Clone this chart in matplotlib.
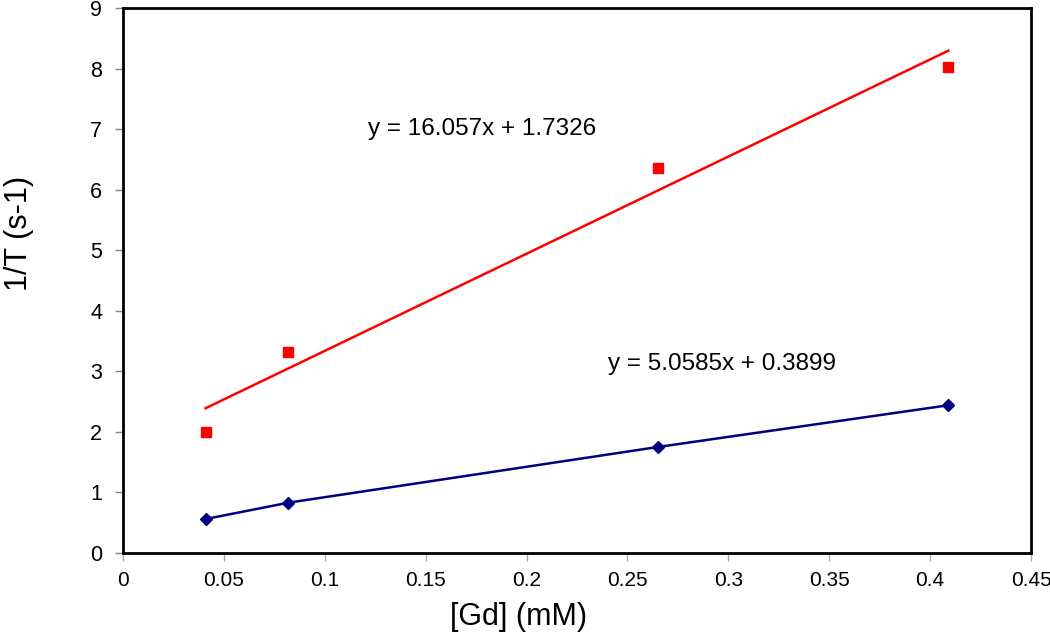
import matplotlib
matplotlib.use("Agg")
import matplotlib.pyplot as plt
import numpy as np

plt.rcParams['font.family'] = ['Liberation Sans', 'DejaVu Sans']

gd = [0.041, 0.082, 0.265, 0.409]
r1 = [0.56, 0.83, 1.75, 2.44]
r2 = [2.00, 3.32, 6.36, 8.03]
fit1 = (5.0585, 0.3899)
fit2 = (16.057, 1.7326)
xticks = [0, 0.05, 0.1, 0.15, 0.2, 0.25, 0.3, 0.35, 0.4, 0.45]
xticklabels = ['0', '0.05', '0.1', '0.15', '0.2', '0.25', '0.3', '0.35', '0.4', '0.45']
yticks = list(range(10))

fig = plt.figure(figsize=(10.5, 6.37), dpi=100)
ax = fig.add_axes([0.117, 0.132, 0.865, 0.855])

xs = np.array([gd[0], gd[-1]])
ax.plot(xs, fit2[0] * xs + fit2[1], color='#ff0000', lw=1.8, zorder=2)
ax.plot(gd, r2, linestyle='none', marker='s', ms=7, color='#ff0000', zorder=3)
ax.plot(gd, r1, color='#000080', lw=1.8, marker='D', ms=6, zorder=3)

ax.text(0.1215, 7.0, 'y = 16.057x + 1.7326', fontsize=17.5, va='center', ha='left')
ax.text(0.2405, 3.12, 'y = 5.0585x + 0.3899', fontsize=17.5, va='center', ha='left')

ax.set_xlim(0, 0.45)
ax.set_ylim(0, 9)
ax.set_xticks(xticks)
ax.set_xticklabels(xticklabels)
ax.set_yticks(yticks)
for s in ax.spines.values():
    s.set_linewidth(2)
    s.set_color('black')
ax.tick_params(axis='y', direction='out', length=6, width=1, color='#888888', labelsize=15.5, pad=9)
ax.tick_params(axis='x', direction='out', length=6, width=1, color='#aaaaaa', labelsize=15, pad=7)

fig.text(519 / 1050, 1 - 617 / 637, '[Gd] (mM)', fontsize=22, ha='center', va='center')
fig.text(19 / 1050, 1 - 233 / 637, '1/T (s-1)', fontsize=22, ha='center', va='center', rotation=90)

fig.savefig('out.png', dpi=100)
